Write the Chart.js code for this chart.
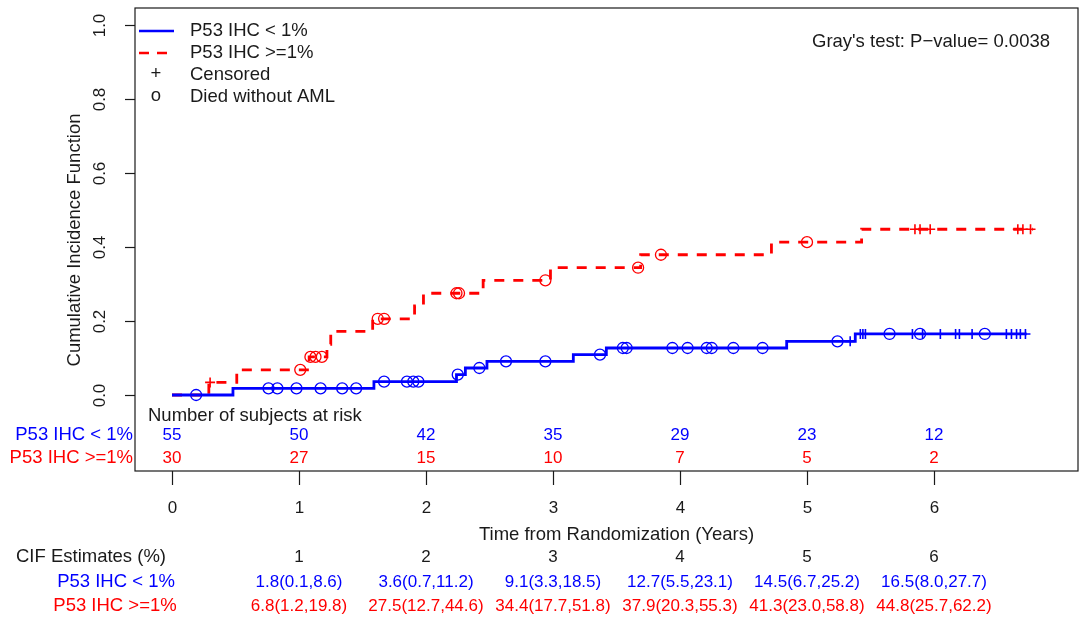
<!DOCTYPE html>
<html>
<head>
<meta charset="utf-8">
<title>Cumulative incidence by P53 IHC</title>
<script src="https://cdn.jsdelivr.net/npm/chart.js@4"></script>
<style>
  html, body { margin: 0; padding: 0; background: #fff; }
  canvas { display: block; }
</style>
</head>
<body>
<canvas id="cifChart" width="1088" height="619"></canvas>
<script>
// Step curves: event times (years) and cumulative incidence after each step
const lowTimes = [0, 0.48, 1.59, 2.24, 2.31, 2.48, 3.16, 3.42, 4.84, 5.38, 6.73];
const lowCif = [0, 0.018, 0.036, 0.055, 0.073, 0.091, 0.109, 0.127, 0.145, 0.165, 0.165];
const highTimes = [0, 0.29, 0.51, 1.08, 1.22, 1.25, 1.58, 1.91, 1.98, 2.45, 2.98, 3.69, 4.72, 5.43, 6.78];
const highCif = [0, 0.034, 0.068, 0.103, 0.137, 0.172, 0.206, 0.241, 0.275, 0.310, 0.344, 0.379, 0.413, 0.448, 0.448];

// Marks on the curves
const lowDeathTimes = [0.19, 0.76, 0.83, 0.98, 1.17, 1.34, 1.45, 1.67, 1.85, 1.90, 1.94, 2.25, 2.42, 2.63, 2.94,
  3.37, 3.55, 3.58, 3.94, 4.06, 4.21, 4.25, 4.42, 4.65, 5.24, 5.65, 5.89, 6.40];
const lowCensorTimes = [5.34, 5.42, 5.44, 5.46, 5.83, 5.91, 6.05, 6.17, 6.20, 6.30, 6.57, 6.61, 6.65, 6.68, 6.72];
const highDeathTimes = [1.01, 1.09, 1.13, 1.18, 1.62, 1.67, 2.24, 2.26, 2.94, 3.67, 3.85, 5.00];
const highCensorTimes = [0.30, 5.85, 5.89, 5.97, 6.66, 6.70, 6.76];

// Axis ticks
const xTicks = [0, 1, 2, 3, 4, 5, 6];
const yTicks = [0, 0.2, 0.4, 0.6, 0.8, 1.0];

// Number at risk
const riskLow = [55, 50, 42, 35, 29, 23, 12];
const riskHigh = [30, 27, 15, 10, 7, 5, 2];

// CIF estimates with 95% CI (%)
const cifYears = [1, 2, 3, 4, 5, 6];
const cifLowEst = [1.8, 3.6, 9.1, 12.7, 14.5, 16.5];
const cifLowLower = [0.1, 0.7, 3.3, 5.5, 6.7, 8.0];
const cifLowUpper = [8.6, 11.2, 18.5, 23.1, 25.2, 27.7];
const cifHighEst = [6.8, 27.5, 34.4, 37.9, 41.3, 44.8];
const cifHighLower = [1.2, 12.7, 17.7, 20.3, 23.0, 25.7];
const cifHighUpper = [19.8, 44.6, 51.8, 55.3, 58.8, 62.2];

const groupLabels = ['P53 IHC < 1%', 'P53 IHC >=1%'];
const pValueText = "Gray's test: P\u2212value= 0.0038";

const BLUE = '#0000ff';
const RED = '#ff0000';
const INK = '#1a1a1a';
const FAMILY = '"Liberation Sans", Arial, sans-serif';
const FONT = '18.5px ' + FAMILY;
const NUM_FONT = '17px ' + FAMILY;
const CIF_FONT = '17px ' + FAMILY;

const levelAt = (times, levels, t) => {
  let v = levels[0];
  for (let i = 0; i < times.length; i++) {
    if (times[i] <= t) v = levels[i];
  }
  return v;
};
const curve = (times, levels) => times.map((t, i) => ({ x: t, y: levels[i] }));
const marks = (ts, times, levels) => ts.map(t => ({ x: t, y: levelAt(times, levels, t) }));
const fmt = (e, lo, hi) => `${e.toFixed(1)}(${lo.toFixed(1)},${hi.toFixed(1)})`;

// Box, axes, legend and the two tables under the plot
const decorations = {
  id: 'decorations',
  afterDraw(chart) {
    const { ctx, chartArea: a } = chart;
    const xs = chart.scales.x, ys = chart.scales.y;
    ctx.save();
    ctx.strokeStyle = INK;
    ctx.lineWidth = 1.2;
    ctx.setLineDash([]);
    ctx.strokeRect(a.left, a.top, a.right - a.left, a.bottom - a.top);

    ctx.fillStyle = INK;
    ctx.textAlign = 'center';
    ctx.textBaseline = 'middle';

    // y axis
    ctx.font = NUM_FONT;
    yTicks.forEach(v => {
      const py = Math.round(ys.getPixelForValue(v)) + 0.5;
      ctx.beginPath();
      ctx.moveTo(a.left - 10, py);
      ctx.lineTo(a.left, py);
      ctx.stroke();
      ctx.save();
      ctx.translate(100, py);
      ctx.rotate(-Math.PI / 2);
      ctx.fillText(v.toFixed(1), 0, 0);
      ctx.restore();
    });
    ctx.font = FONT;
    ctx.save();
    ctx.translate(75, 240);
    ctx.rotate(-Math.PI / 2);
    ctx.fillText('Cumulative Incidence Function', 0, 0);
    ctx.restore();

    // x axis below the box
    ctx.font = NUM_FONT;
    xTicks.forEach(v => {
      const px = Math.round(xs.getPixelForValue(v)) + 0.5;
      ctx.beginPath();
      ctx.moveTo(px, a.bottom);
      ctx.lineTo(px, a.bottom + 14);
      ctx.stroke();
      ctx.fillText(String(v), px, a.bottom + 37);
    });
    ctx.font = FONT;
    ctx.fillText('Time from Randomization (Years)', xs.getPixelForValue(3.5), a.bottom + 64);

    // legend
    const lx = a.left + 4, tx = a.left + 55;
    ctx.lineWidth = 2.6;
    ctx.strokeStyle = BLUE;
    ctx.beginPath(); ctx.moveTo(lx, 31); ctx.lineTo(lx + 35, 31); ctx.stroke();
    ctx.strokeStyle = RED;
    ctx.setLineDash([10, 8]);
    ctx.beginPath(); ctx.moveTo(lx, 53); ctx.lineTo(lx + 35, 53); ctx.stroke();
    ctx.setLineDash([]);
    ctx.textAlign = 'left';
    ctx.fillText(groupLabels[0], tx, 31);
    ctx.fillText(groupLabels[1], tx, 53);
    ctx.fillText('Censored', tx, 75);
    ctx.fillText('Died without AML', tx, 97);
    ctx.textAlign = 'center';
    ctx.fillText('+', lx + 17, 74);
    ctx.fillText('o', lx + 17, 96);

    ctx.textAlign = 'left';
    ctx.fillText(pValueText, 812, 42);

    // number at risk
    ctx.fillText('Number of subjects at risk', a.left + 13, 416);
    ctx.textAlign = 'right';
    ctx.fillStyle = BLUE;
    ctx.fillText(groupLabels[0], a.left - 2, 435);
    ctx.fillStyle = RED;
    ctx.fillText(groupLabels[1], a.left - 2, 458);
    ctx.textAlign = 'center';
    ctx.font = NUM_FONT;
    xTicks.forEach((t, i) => {
      const px = xs.getPixelForValue(t);
      ctx.fillStyle = BLUE;
      ctx.fillText(String(riskLow[i]), px, 435);
      ctx.fillStyle = RED;
      ctx.fillText(String(riskHigh[i]), px, 458);
    });

    // CIF estimates table
    ctx.font = FONT;
    ctx.fillStyle = INK;
    ctx.fillText('CIF Estimates (%)', 91, 557);
    ctx.fillStyle = BLUE;
    ctx.fillText(groupLabels[0], 116, 582);
    ctx.fillStyle = RED;
    ctx.fillText(groupLabels[1], 115, 606);
    cifYears.forEach((yr, i) => {
      const px = xs.getPixelForValue(yr);
      ctx.font = NUM_FONT;
      ctx.fillStyle = INK;
      ctx.fillText(String(yr), px, 557);
      ctx.font = CIF_FONT;
      ctx.fillStyle = BLUE;
      ctx.fillText(fmt(cifLowEst[i], cifLowLower[i], cifLowUpper[i]), px, 582);
      ctx.fillStyle = RED;
      ctx.fillText(fmt(cifHighEst[i], cifHighLower[i], cifHighUpper[i]), px, 606);
    });
    ctx.restore();
  }
};

new Chart(document.getElementById('cifChart'), {
  type: 'scatter',
  data: {
    datasets: [
      {
        type: 'line',
        label: groupLabels[0],
        data: curve(lowTimes, lowCif),
        stepped: 'before',
        borderColor: BLUE,
        borderWidth: 2.8,
        pointRadius: 0,
        fill: false
      },
      {
        type: 'line',
        label: groupLabels[1],
        data: curve(highTimes, highCif),
        stepped: 'before',
        borderColor: RED,
        borderWidth: 2.8,
        borderDash: [10, 9],
        pointRadius: 0,
        fill: false
      },
      {
        label: 'Died without AML',
        data: marks(lowDeathTimes, lowTimes, lowCif),
        pointStyle: 'circle',
        pointRadius: 5.5,
        borderColor: BLUE,
        backgroundColor: 'rgba(0,0,0,0)',
        borderWidth: 1.3
      },
      {
        label: 'Censored',
        data: marks(lowCensorTimes, lowTimes, lowCif),
        pointStyle: 'cross',
        pointRadius: 5,
        borderColor: BLUE,
        borderWidth: 1.6
      },
      {
        label: 'Died without AML',
        data: marks(highDeathTimes, highTimes, highCif),
        pointStyle: 'circle',
        pointRadius: 5.5,
        borderColor: RED,
        backgroundColor: 'rgba(0,0,0,0)',
        borderWidth: 1.3
      },
      {
        label: 'Censored',
        data: marks(highCensorTimes, highTimes, highCif),
        pointStyle: 'cross',
        pointRadius: 5,
        borderColor: RED,
        borderWidth: 1.6
      }
    ]
  },
  options: {
    responsive: false,
    animation: false,
    layout: { padding: { left: 135, top: 8, right: 10, bottom: 148 } },
    scales: {
      x: { type: 'linear', min: -37 / 127, max: 906 / 127, display: false },
      y: { type: 'linear', min: -76 / 370, max: 387 / 370, display: false }
    },
    plugins: {
      legend: { display: false },
      tooltip: { enabled: false }
    }
  },
  plugins: [decorations]
});
</script>
</body>
</html>
